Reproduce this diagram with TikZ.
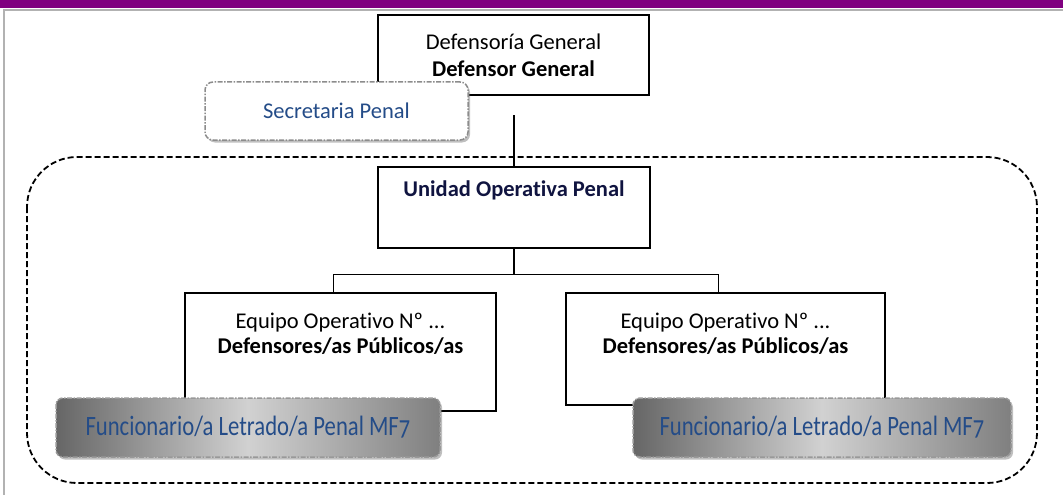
\documentclass[tikz,border=0pt]{standalone}
\usepackage{fontspec}
\setmainfont{Carlito}[Ligatures=NoCommon]
\newfontfamily\condfont[FakeStretch=0.81,Numbers=OldStyle,Ligatures=NoCommon]{Carlito}
\usetikzlibrary{shadows}
\usetikzlibrary{positioning}
\definecolor{bandpurple}{RGB}{128,0,128}
\definecolor{penalblue}{RGB}{36,76,136}
\definecolor{unitnavy}{RGB}{16,20,64}
\tikzset{
    orgbox/.style = {rectangle, line width=1.2pt, draw=black, fill=white, inner sep=0pt, align=center},
    secbox/.style = {rectangle, rounded corners=8pt, line width=1.5pt, draw=gray!90, dash pattern=on 5pt off 1.5pt on 1.5pt off 1.5pt, fill=white, text=penalblue, drop shadow={shadow xshift=2pt, shadow yshift=-2.5pt, opacity=0.5}},
    funbox/.style = {secbox, rounded corners=7pt, draw=gray!80, left color=black!60, right color=black!50, middle color=black!18, font=\condfont\fontsize{28}{32}\selectfont},
    boxtext/.style = {inner sep=0pt, align=center},
    edgen/.style = {line width=1.1pt, black},
    unitframe/.style = {line width=1.8pt, dash pattern=on 6pt off 3pt, rounded corners=50pt}, % operating unit
}

\begin{document}
\begin{tikzpicture}[x=1pt, y=-1pt, font=\fontsize{22.5}{27}\selectfont]
\useasboundingbox (0,0) rectangle (1063,495);
\fill[bandpurple] (0,0) rectangle (1063,8);
\draw[gray!60, line width=1.5pt] (1063,10) -- (4,10) -- (4,495);
\draw[unitframe] (27,157) rectangle (1037,483);
%
\coordinate (dgline) at (514,115);
\node[orgbox, minimum width=271pt, minimum height=80pt] at (513.5,55) (dg) {Defensoría General\\\textbf{Defensor General}};
\node[secbox, minimum width=263pt, minimum height=58pt] at (336.5,111) (sp) {Secretaria Penal};
\node[orgbox, minimum width=272pt, minimum height=81pt, label={[boxtext, text=unitnavy, below=14.5pt]north:\textbf{Unidad Operativa Penal}}] at (514,207.5) (uop) {};
\node[orgbox, minimum width=311pt, minimum height=118pt, label={[boxtext, below=20pt]north:Equipo Operativo Nº ...\\[-1.5pt]\textbf{Defensores/as Públicos/as}}] at (340.5,352) (eqa) {};
\node[orgbox, minimum width=319pt, minimum height=112pt, label={[boxtext, below=20pt]north:Equipo Operativo Nº ...\\[-1.5pt]\textbf{Defensores/as Públicos/as}}] at (725.5,349) (eqb) {};
\node[funbox, minimum width=384pt, minimum height=59pt] at (248,427.5) (fla) {Funcionario/a Letrado/a Penal MF7};
\node[funbox, minimum width=378pt, minimum height=59pt] at (822,427.5) (flb) {Funcionario/a Letrado/a Penal MF7};
%
\draw[edgen] (dgline) -- (uop);
\draw[edgen] (uop.south) -- ++(0,26) coordinate (fork);
\draw[edgen] (fork) -| ([xshift=-7pt]eqa.north);
\draw[edgen] (fork) -| ([xshift=-7pt]eqb.north);
\end{tikzpicture}
\end{document}
